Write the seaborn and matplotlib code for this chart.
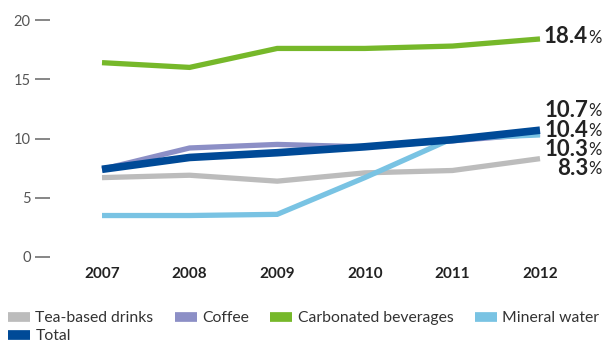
import matplotlib
matplotlib.use("Agg")
import matplotlib.pyplot as plt
import seaborn as sns
import pandas as pd
from matplotlib.lines import Line2D

years = [2007, 2008, 2009, 2010, 2011, 2012]
tea = [6.7, 6.9, 6.4, 7.1, 7.3, 8.3]
coffee = [7.4, 9.2, 9.5, 9.3, 9.8, 10.4]
carbonated = [16.4, 16.0, 17.6, 17.6, 17.8, 18.4]
mineral = [3.5, 3.5, 3.6, 6.7, 10.0, 10.3]
total = [7.4, 8.4, 8.8, 9.3, 9.9, 10.7]

series_names = ["Tea-based drinks", "Coffee", "Carbonated beverages", "Mineral water", "Total"]
series_values = [tea, coffee, carbonated, mineral, total]
colors = ["#BCBCBC", "#8C8FC6", "#76B82A", "#79C3E3", "#004A97"]
widths = [3.8, 3.8, 3.8, 3.8, 5.5]
y_ticks = [0, 5, 10, 15, 20]

rows = []
for name, vals in zip(series_names, series_values):
    for yr, v in zip(years, vals):
        rows.append({"year": yr, "value": v, "series": name})
df = pd.DataFrame(rows)

sns.set_theme(style="white")
plt.rcParams["font.family"] = ["Lato", "DejaVu Sans"]

fig = plt.figure(figsize=(6.09, 3.44), dpi=100)
W, H = 609, 344
ax = fig.add_axes([50 / W, 87 / H, (560 - 50) / W, (257 - 20) / H])

for name, col, lw in zip(series_names, colors, widths):
    sub = df[df["series"] == name]
    sns.lineplot(data=sub, x="year", y="value", ax=ax, color=col, linewidth=lw,
                 solid_capstyle="butt", solid_joinstyle="miter", legend=False,
                 clip_on=False)

ppx = 5 / 438
ax.set_xlim(2007 - 52 * ppx, 2012 + 20 * ppx)
ax.set_ylim(0, 20)
for s in ax.spines.values():
    s.set_visible(False)

ax.set_yticks(y_ticks)
ax.set_yticklabels([str(t) for t in y_ticks], fontsize=10.5, color="#555555")
ax.tick_params(axis="y", which="major", left=True, length=11, width=1.1,
               color="#666666", pad=3, direction="out")
ax.set_xticks(years)
ax.set_xticklabels([str(y) for y in years], fontsize=11, fontweight="bold",
                   color="#222222")
ax.tick_params(axis="x", bottom=False, pad=1)
ax.set_xlabel("")
ax.set_ylabel("")
ax.grid(False)

# End-of-line value labels, right-aligned numbers followed by a smaller "%"
label_offsets = {"Carbonated beverages": 0.2, "Total": 1.7,
                 "Coffee": 0.3, "Mineral water": -1.2, "Tea-based drinks": -0.8}
for name, vals in zip(series_names, series_values):
    yv = vals[-1] + label_offsets[name]
    t = ax.text(2012 + 48 * ppx, yv, f"{vals[-1]:.1f}", ha="right", va="center",
                fontsize=16, fontweight="bold", color="#222222", clip_on=False)
    ax.annotate("%", xy=(1, 0), xycoords=t, xytext=(0.5, 1.0),
                textcoords="offset points", ha="left", va="bottom",
                fontsize=12, color="#222222")

handles = [Line2D([], [], color=c, linewidth=7, solid_capstyle="butt") for c in colors]
order = [0, 4, 1, 2, 3]
fig.legend([handles[i] for i in order], [series_names[i] for i in order],
           loc="lower left", bbox_to_anchor=(8 / W, 1 / H), ncol=4, frameon=False,
           fontsize=11.3, handlelength=1.4, handletextpad=0.35, columnspacing=1.35,
           labelspacing=0.25, borderaxespad=0.0, borderpad=0.0,
           labelcolor="#333333")

fig.savefig("out.png", dpi=100)
